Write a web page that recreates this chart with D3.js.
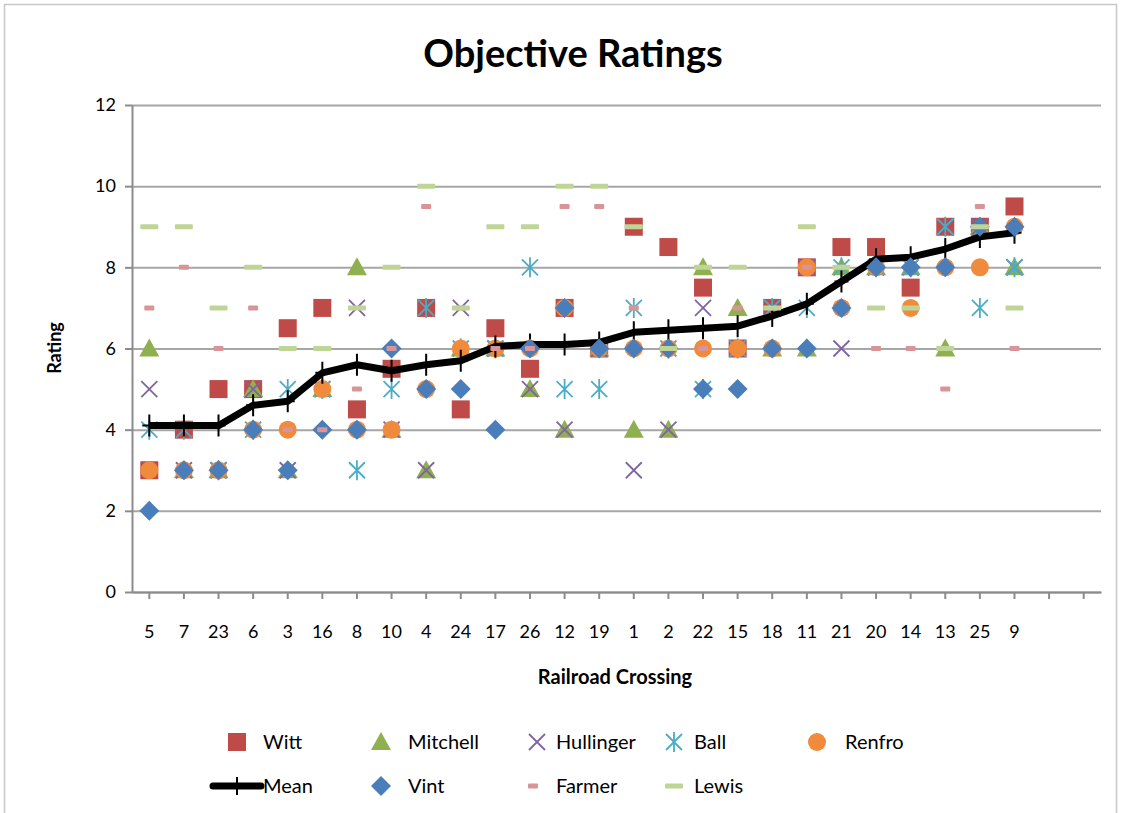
<!DOCTYPE html>
<html>
<head>
<meta charset="utf-8">
<script src="https://cdn.jsdelivr.net/npm/d3@7"></script>
<style>
  body { margin: 0; background: #fff; }
  svg text { font-family: Lato, "Open Sans", sans-serif; fill: #000; }
</style>
</head>
<body>
<svg width="1125" height="813"></svg>
<script>
// crossings, in rating order; two empty slots on the right
const crossings = ["5","7","23","6","3","16","8","10","4","24","17","26","12","19","1","2","22","15","18","11","21","20","14","13","25","9","",""]
const yTicks = [0, 2, 4, 6, 8, 10, 12]

const witt      = [3, 4, 5, 5, 6.5, 7, 4.5, 5.5, 7, 4.5, 6.5, 5.5, 7, 6, 9, 8.5, 7.5, 6, 7, 8, 8.5, 8.5, 7.5, 9, 9, 9.5]
const mitchell  = [6, 3, 3, 5, 3, 5, 8, 4, 3, 6, 6, 5, 4, 6, 4, 4, 8, 7, 6, 6, 8, 8, 8, 6, 9, 8]
const hullinger = [5, 3, 3, 5, 3, 5, 7, 4, 3, 7, 6, 5, 4, 6, 3, 4, 7, 6, 7, 8, 6, 8, 8, 9, 9, 8]
const ball      = [4, 4, 3, 4, 5, 5, 3, 5, 7, 6, 6, 8, 5, 5, 7, 6, 5, 6, 7, 7, 8, 8, 8, 9, 7, 8]
const renfro    = [3, 3, 3, 4, 4, 5, 4, 4, 5, 6, 6, 6, 7, 6, 6, 6, 6, 6, 6, 8, 7, 8, 7, 8, 8, 9]
const mean      = [4.1, 4.1, 4.1, 4.6, 4.7, 5.4, 5.6, 5.45, 5.6, 5.7, 6.05, 6.1, 6.1, 6.15, 6.4, 6.45, 6.5, 6.55, 6.8, 7.1, 7.65, 8.2, 8.25, 8.45, 8.75, 8.85]
const vint      = [2, 3, 3, 4, 3, 4, 4, 6, 5, 5, 4, 6, 7, 6, 6, 6, 5, 5, 6, 6, 7, 8, 8, 8, 9, 9]
const farmer    = [7, 8, 6, 7, 4, 4, 5, 6, 9.5, 7, 6, 6, 9.5, 9.5, 7, 6, 6, 7, 7, 8, 8, 6, 6, 5, 9.5, 6]
const lewis     = [9, 9, 7, 8, 6, 6, 7, 8, 10, 7, 9, 9, 10, 10, 9, 6, 8, 8, 7, 9, 8, 7, 7, 6, 9, 7]

const series = [
  {name: "Witt", values: witt, shape: "square", color: "#BE4B48"},
  {name: "Mitchell", values: mitchell, shape: "triangle", color: "#8FB04F"},
  {name: "Hullinger", values: hullinger, shape: "x", color: "#8064A2"},
  {name: "Ball", values: ball, shape: "star", color: "#4BACC6"},
  {name: "Renfro", values: renfro, shape: "circle", color: "#F08A3C"},
  {name: "Mean", values: mean, shape: "line", color: "#000"},
  {name: "Vint", values: vint, shape: "diamond", color: "#4A7EBB"},
  {name: "Farmer", values: farmer, shape: "dashS", color: "#D99498"},
  {name: "Lewis", values: lewis, shape: "dashL", color: "#BFD596"}
]

const svg = d3.select("svg")

// chart frame
svg.append("path")
  .attr("d", "M4.5,813 V4.5 H1116.5 V813")
  .attr("fill", "none").attr("stroke", "#c8c8c8").attr("stroke-width", 1.5)

const x = d3.scaleBand().domain(d3.range(crossings.length)).range([132, 1101])
const cx = i => x(i) + x.bandwidth() / 2
const y = d3.scaleLinear().domain([0, 12]).range([592, 105])

// gridlines
svg.append("g")
  .attr("transform", "translate(132,0)")
  .call(d3.axisLeft(y).tickValues(yTicks).tickSize(-969).tickFormat(""))
  .call(g => g.select(".domain").remove())
  .call(g => g.selectAll("line").attr("stroke", "#a6a6a6").attr("stroke-width", 2))

// y axis
svg.append("g")
  .attr("transform", "translate(132,0)")
  .call(d3.axisLeft(y).tickValues(yTicks).tickSize(7).tickSizeOuter(0).tickPadding(9))
  .call(g => g.select(".domain").attr("stroke", "#8c8c8c").attr("stroke-width", 2))
  .call(g => g.selectAll("line").attr("stroke", "#8c8c8c").attr("stroke-width", 2))
  .call(g => g.selectAll("text").attr("font-size", 18).attr("font-family", "Lato"))

// x axis
svg.append("g")
  .attr("transform", "translate(0,592)")
  .call(d3.axisBottom(x).tickFormat(i => crossings[i]).tickSize(7).tickSizeOuter(0).tickPadding(26))
  .call(g => g.select(".domain").attr("stroke", "#8c8c8c").attr("stroke-width", 2))
  .call(g => g.selectAll("line").attr("stroke", "#8c8c8c").attr("stroke-width", 2))
  .call(g => g.selectAll("text").attr("font-size", 18).attr("font-family", "Lato"))

// titles
svg.append("text").attr("x", 573).attr("y", 67).attr("text-anchor", "middle")
  .attr("font-size", 38).attr("font-weight", "bold").text("Objective Ratings")
svg.append("text").attr("transform", "translate(61,348) rotate(-90)").attr("text-anchor", "middle")
  .attr("font-size", 18).attr("font-weight", "bold").text("Rating")
svg.append("text").attr("x", 615).attr("y", 684).attr("text-anchor", "middle")
  .attr("font-size", 20).attr("font-weight", "bold").text("Railroad Crossing")

// marker drawing
function marker(g, shape, color) {
  if (shape === "square") {
    g.append("rect").attr("x", -9).attr("y", -9).attr("width", 18).attr("height", 18).attr("fill", color)
  } else if (shape === "triangle") {
    g.append("path").attr("d", "M0,-10 L10,8 L-10,8 Z").attr("fill", color)
  } else if (shape === "x") {
    g.append("path").attr("d", "M-8,-8 L8,8 M-8,8 L8,-8").attr("stroke", color).attr("stroke-width", 1.8)
  } else if (shape === "star") {
    g.append("path").attr("d", "M-8,-8 L8,8 M-8,8 L8,-8 M0,-10 V10").attr("stroke", color).attr("stroke-width", 1.8)
  } else if (shape === "circle") {
    g.append("circle").attr("r", 9).attr("fill", color)
  } else if (shape === "diamond") {
    g.append("path").attr("d", "M0,-10 L10,0 L0,10 L-10,0 Z").attr("fill", color)
  } else if (shape === "dashS") {
    g.append("rect").attr("x", -5).attr("y", -2.5).attr("width", 10).attr("height", 5).attr("rx", 1).attr("fill", color)
  } else if (shape === "dashL") {
    g.append("rect").attr("x", -9).attr("y", -2.5).attr("width", 18).attr("height", 5).attr("rx", 1).attr("fill", color)
  }
}

const plot = svg.append("g")
series.forEach(s => {
  if (s.shape === "line") {
    const line = d3.line().x((d, i) => cx(i)).y(d => y(d))
    plot.append("path").datum(s.values).attr("d", line)
      .attr("fill", "none").attr("stroke", s.color).attr("stroke-width", 7).attr("stroke-linejoin", "round")
    plot.selectAll(".plus").data(s.values).enter().append("path")
      .attr("d", (d, i) => "M" + cx(i) + "," + (y(d) - 11) + " v22 M" + (cx(i) - 7) + "," + y(d) + " h14")
      .attr("stroke", "#000").attr("stroke-width", 2)
    return
  }
  s.values.forEach((v, i) => {
    if (v == null) return
    marker(plot.append("g").attr("transform", "translate(" + cx(i) + "," + y(v) + ")"), s.shape, s.color)
  })
})

// legend
const legendPos = [
  [237, 742, 263], [381, 742, 408], [537, 742, 556], [674, 742, 694], [817, 742, 845],
  [237, 786, 263], [381, 786, 408], [533, 786, 556], [674, 786, 694]
]
series.forEach((s, k) => {
  const [mx, my, tx] = legendPos[k]
  if (s.shape === "line") {
    svg.append("path").attr("d", "M213," + my + " H261").attr("stroke", "#000").attr("stroke-width", 7).attr("stroke-linecap", "round")
    svg.append("path").attr("d", "M237," + (my - 9) + " v18").attr("stroke", "#000").attr("stroke-width", 2)
  } else {
    marker(svg.append("g").attr("transform", "translate(" + mx + "," + my + ")"), s.shape, s.color)
  }
  svg.append("text").attr("x", tx).attr("y", my + 7).attr("font-size", 20).text(s.name)
})
</script>
</body>
</html>
